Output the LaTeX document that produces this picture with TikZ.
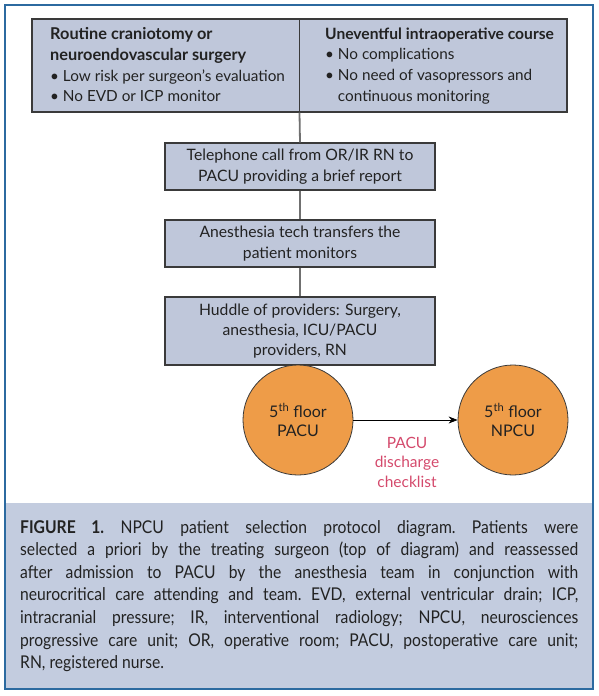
\documentclass[tikz,border=0pt]{standalone}
\usepackage{fontspec}
\setmainfont{Lato}
\newfontfamily\capfont{Lato}[FakeStretch=0.89]
\usetikzlibrary{arrows.meta}
\definecolor{boxfill}{HTML}{BFC7DA}
\definecolor{capfill}{HTML}{C3CCDF}
\definecolor{framecol}{HTML}{2C6AA0}
\definecolor{boxline}{HTML}{3A3A3A}
\definecolor{linkcol}{HTML}{707070}
\definecolor{orangefill}{HTML}{EE9C48}
\definecolor{pinktext}{HTML}{D44A6C}
\definecolor{txt}{HTML}{222222}
\begin{document}
\begin{tikzpicture}[x=1pt,y=-1pt,
  flowbox/.style={draw=boxline, line width=1.1pt, fill=boxfill, inner sep=0pt},
  boxtext/.style={text=txt, inner sep=0pt, font=\fontsize{15.3}{20.6}\selectfont},
  link/.style={draw=linkcol, line width=1.8pt},
  place/.style={circle, draw=boxline, line width=0.8pt, fill=orangefill, minimum size=110pt, inner sep=0pt, align=center, text=txt, font=\fontsize{16}{19}\selectfont}]
\useasboundingbox (0,0) rectangle (598,696);
% caption background and frame
\fill[capfill] (5,503) rectangle (593,689);
\draw[framecol, line width=2.6pt] (5,5) rectangle (593,689);
% top box
\node[flowbox, minimum width=535pt, minimum height=93pt] (top) at (299.5,65.5) {};
\draw[boxline, line width=1.1pt] (top.north) -- (top.south);
\node[boxtext, anchor=north west, align=left] (lt) at (50,27.5) {{\fontsize{16.3}{20.6}\selectfont\textbf{Routine craniotomy or}}\\{\fontsize{16.3}{20.6}\selectfont\textbf{neuroendovascular surgery}}\\• Low risk per surgeon's evaluation\\• No EVD or ICP monitor};
\node[boxtext, anchor=north west, align=left] (rt) at (325,27.5) {{\fontsize{15.6}{20.6}\selectfont\textbf{Uneventful intraoperative course}}\\• No complications\\• No need of vasopressors and\\\phantom{• }continuous monitoring};
% flow boxes
\node[flowbox, minimum width=270pt, minimum height=47pt, boxtext, align=center, font=\fontsize{15.7}{20.3}\selectfont] (tel) at (300,166.5) {Telephone call from OR/IR RN to\\PACU providing a brief report};
\node[flowbox, minimum width=270pt, minimum height=47pt, boxtext, align=center, font=\fontsize{15.7}{20.3}\selectfont] (tech) at (300,243.5) {Anesthesia tech transfers the\\patient monitors};
\node[flowbox, minimum width=270pt, minimum height=68pt, boxtext, align=center, font=\fontsize{15.7}{20.3}\selectfont] (huddle) at (300,331) {Huddle of providers: Surgery,\\anesthesia, ICU/PACU\\providers, RN};
\draw[link] (top.south) -- (tel.north);
\draw[link] (tel.south) -- (tech.north);
\draw[link] (tech.south) -- (huddle.north);
% circles
\node[place] (pacu) at (298,420) {5\textsuperscript{th} floor\\PACU};
\node[place] (npcu) at (513,420) {5\textsuperscript{th} floor\\NPCU};
\draw[black, line width=0.8pt, -{Stealth[length=9pt,width=7pt]}] (pacu.east) -- (npcu.west);
\node[text=pinktext, align=center, inner sep=0pt, font=\fontsize{15.5}{19.5}\selectfont] (chk) at (407,462) {PACU\\discharge\\checklist};
% caption
\node[anchor=north west, inner sep=0pt, text width=558pt, align=justify, text=txt, font=\capfont\fontsize{17.6}{22.6}\selectfont] (cap) at (20,520) {\frenchspacing\emergencystretch=2em\noindent\textbf{FIGURE 1.} NPCU patient selection protocol diagram. Patients were\linebreak selected a priori by the treating surgeon (top of diagram) and reassessed\linebreak after admission to PACU by the anesthesia team in conjunction with\linebreak neurocritical care attending and team. EVD, external ventricular drain; ICP,\linebreak intracranial pressure; IR, interventional radiology; NPCU, neurosciences\linebreak progressive care unit; OR, operative room; PACU, postoperative care unit;\linebreak RN, registered nurse.};
\end{tikzpicture}
\end{document}
